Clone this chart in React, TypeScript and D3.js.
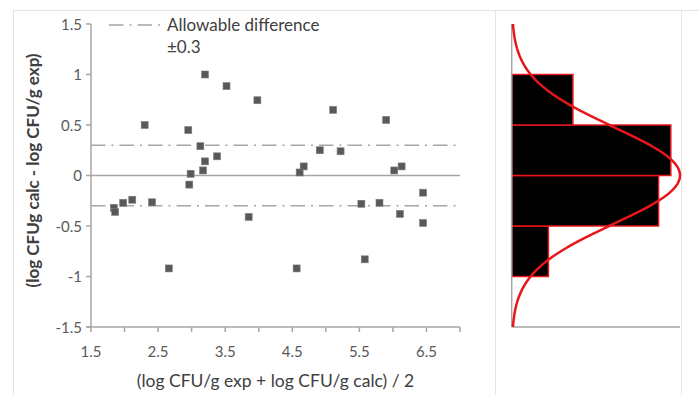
import React from 'react';
import * as d3 from 'd3';

// mean of the two methods (x) and their difference (y)
const meanLog = [
  3.2, 3.52, 2.3, 2.95, 3.13, 3.2, 3.38, 3.17, 2.985, 3.98, 5.11, 4.91, 5.22, 4.67, 4.61, 5.9, 6.13, 6.02,
  2.965, 1.84, 1.86, 1.98, 2.115, 2.41, 2.66, 3.85, 4.565, 6.45, 5.53, 5.8, 6.105, 6.45, 5.58,
];
const diffLog = [
  1.0, 0.885, 0.5, 0.45, 0.29, 0.14, 0.19, 0.05, 0.017, 0.745, 0.65, 0.25, 0.24, 0.09, 0.03, 0.55, 0.09, 0.05,
  -0.09, -0.32, -0.36, -0.27, -0.24, -0.265, -0.92, -0.41, -0.92, -0.17, -0.28, -0.27, -0.38, -0.47, -0.83,
];
const allowable = 0.3;
const binEdges = [-1, -0.5, 0, 0.5, 1];
const xTicks = [1.5, 2, 2.5, 3, 3.5, 4, 4.5, 5, 5.5, 6, 6.5, 7];
const xLabels = [1.5, 2.5, 3.5, 4.5, 5.5, 6.5];
const yTicks = [1.5, 1, 0.5, 0, -0.5, -1, -1.5];

const FONT = 'Lato, "Open Sans", sans-serif';
const TEXT = '#595959';
const AXIS = '#a6a6a6';
const DASHDOT = '14.5,6,2,6';

export default function App() {
  const x = d3.scaleLinear().domain([1.5, 7]).range([91, 460]);
  const y = d3.scaleLinear().domain([-1.5, 1.5]).range([327, 24]);

  // histogram, upper-inclusive bins like Excel
  const bins = binEdges.slice(1).map((hi, i) => {
    const lo = binEdges[i];
    return { lo, hi, count: diffLog.filter(d => d > lo && d <= hi).length };
  });
  const n = diffLog.length;
  const mean = d3.mean(diffLog) as number;
  const sd = d3.deviation(diffLog) as number;
  const binW = binEdges[1] - binEdges[0];
  const pdf = (v: number) => Math.exp(-((v - mean) ** 2) / (2 * sd * sd)) / (sd * Math.sqrt(2 * Math.PI));
  const peak = n * binW * pdf(mean);
  const hx = d3.scaleLinear().domain([0, peak]).range([511.7, 680]);
  const curveLine = d3.line<number>()
    .x(v => hx(n * binW * pdf(v)))
    .y(v => y(v));
  const curvePts = d3.range(-1.5, 1.5001, 0.02);

  return (
    <svg width={699} height={395} style={{ position: 'absolute', left: 0, top: 0, background: '#fff' }}>
      {/* panel frames */}
      <line x1={13} y1={10.5} x2={699} y2={10.5} stroke="#e3e3e3" />
      <line x1={13.5} y1={10} x2={13.5} y2={395} stroke="#e3e3e3" />
      <line x1={495.5} y1={10} x2={495.5} y2={395} stroke="#e3e3e3" />
      <line x1={681.5} y1={10} x2={681.5} y2={395} stroke="#e3e3e3" />

      {/* limits of agreement and zero line */}
      {[allowable, -allowable].map(v => (
        <line key={v} x1={x(1.5)} x2={x(7)} y1={y(v)} y2={y(v)} stroke={AXIS} strokeWidth={1.5} strokeDasharray={DASHDOT} />
      ))}
      <line x1={x(1.5)} x2={x(7)} y1={y(0)} y2={y(0)} stroke={AXIS} strokeWidth={1.5} />

      {/* axes */}
      <line x1={x(1.5)} x2={x(1.5)} y1={y(1.5)} y2={y(-1.5)} stroke={AXIS} strokeWidth={1.5} />
      <line x1={x(1.5) - 4} x2={x(7)} y1={y(-1.5)} y2={y(-1.5)} stroke={AXIS} strokeWidth={1.5} />
      {yTicks.map(t => (
        <g key={t}>
          <line x1={x(1.5) - 5} x2={x(1.5)} y1={y(t)} y2={y(t)} stroke={AXIS} strokeWidth={1.5} />
          <text x={82} y={y(t) + 5.5} textAnchor="end" fontFamily={FONT} fontSize={15} fill={TEXT}>{String(t)}</text>
        </g>
      ))}
      {xTicks.map(t => (
        <line key={t} x1={x(t)} x2={x(t)} y1={y(-1.5)} y2={y(-1.5) + 5} stroke={AXIS} strokeWidth={1.5} />
      ))}
      {xLabels.map(t => (
        <text key={t} x={x(t)} y={357} textAnchor="middle" fontFamily={FONT} fontSize={15} fill={TEXT}>{t.toFixed(1)}</text>
      ))}
      <text x={x(4.25)} y={387} textAnchor="middle" fontFamily={FONT} fontSize={17.5} fill="#404040">
        (log CFU/g exp + log CFU/g calc) / 2
      </text>
      <text transform={`translate(39,${y(0.05)}) rotate(-90)`} textAnchor="middle" fontFamily={FONT} fontSize={17} fontWeight="bold" fill="#404040">
        (log CFUg calc - log CFU/g exp)
      </text>

      {/* points */}
      {meanLog.map((m, i) => (
        <rect key={i} x={x(m) - 3.5} y={y(diffLog[i]) - 3.5} width={7} height={7} fill="#595959" stroke="#7f7f7f" strokeWidth={0.6} />
      ))}

      {/* legend */}
      <line x1={109} x2={162} y1={25} y2={25} stroke={AXIS} strokeWidth={1.5} strokeDasharray={DASHDOT} />
      <text x={167} y={31} fontFamily={FONT} fontSize={17} fill="#404040">Allowable difference</text>
      <text x={167} y={53} fontFamily={FONT} fontSize={17} fill="#404040">±0.3</text>

      {/* histogram of differences */}
      {bins.map(b => (
        <rect key={b.lo} x={hx(0)} y={y(b.hi)} width={hx(b.count) - hx(0)} height={y(b.lo) - y(b.hi)}
          fill="#000" stroke="#e8161b" strokeWidth={1.5} />
      ))}
      <line x1={hx(0)} x2={hx(0)} y1={y(1.5)} y2={y(-1.5)} stroke={AXIS} strokeWidth={1.5} />
      <line x1={hx(0)} x2={680} y1={y(-1.5)} y2={y(-1.5)} stroke={AXIS} strokeWidth={1.5} />
      <path d={curveLine(curvePts) ?? ''} fill="none" stroke="#e8161b" strokeWidth={2.5} />
    </svg>
  );
}
